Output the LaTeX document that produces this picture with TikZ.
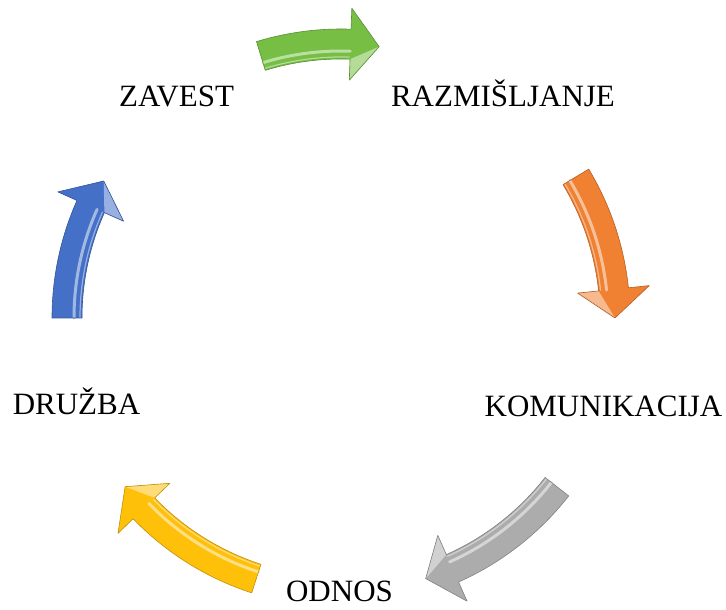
\documentclass[tikz,border=0pt]{standalone}
\usepackage{fontspec}
\setmainfont{Liberation Serif}
\definecolor{cycgreen}{RGB}{118,190,68}
\definecolor{cycorange}{RGB}{240,128,50}
\definecolor{cycgray}{RGB}{172,172,172}
\definecolor{cycyellow}{RGB}{255,192,10}
\definecolor{cycblue}{RGB}{68,112,200}
% curved block arrow on the cycle: tail angle, tip angle, colour
\newcommand\cyclearrow[3]{%
  \pgfmathsetmacro\headback{#2+6}
  \fill[#3] (#1:289) arc[start angle=#1,end angle=\headback,radius=289] -- (\headback:310)
    -- (#2:274) -- (\headback:238) -- (\headback:259)
    arc[start angle=\headback,end angle=#1,radius=259] -- cycle;
  \fill[#3!55!white] (\headback:259) -- (\headback:238) -- (#2:274) -- cycle;
  \draw[#3!50!white,line width=3pt,line cap=round] (#1:267) arc[start angle=#1,end angle=\headback,radius=267];
  \draw[#3!55!white,line width=1.2pt] (#1:261) arc[start angle=#1,end angle=\headback,radius=261];
  \draw[#3!75!black,line width=.6pt,line join=round] (#1:289) arc[start angle=#1,end angle=\headback,radius=289] -- (\headback:310)
    -- (#2:274) -- (\headback:238) -- (\headback:259)
    arc[start angle=\headback,end angle=#1,radius=259] -- cycle;
}
\begin{document}
\begin{tikzpicture}[x=1pt,y=1pt,
label/.style={anchor=base,inner sep=0pt,font=\fontsize{31}{37}\selectfont}]
\useasboundingbox (0,0) rectangle (726,610);
\coordinate (c) at (341,292);
\node[label] (zavest) at (176.5,503) {ZAVEST};
\node[label] (razmisljanje) at (503,503) {RAZMIŠLJANJE};
\node[label] (komunikacija) at (603.5,193) {KOMUNIKACIJA};
\node[label] (odnos) at (339.5,8) {ODNOS};
\node[label] (druzba) at (76.5,195) {DRUŽBA};
\begin{scope}[shift={(c)}]
\cyclearrow{107}{82}{cycgreen}
\cyclearrow{31}{0}{cycorange}
\cyclearrow{-38}{-72}{cycgray}
\cyclearrow{-108}{-142}{cycyellow}
\cyclearrow{180}{150}{cycblue}
\end{scope}
\end{tikzpicture}
\end{document}
